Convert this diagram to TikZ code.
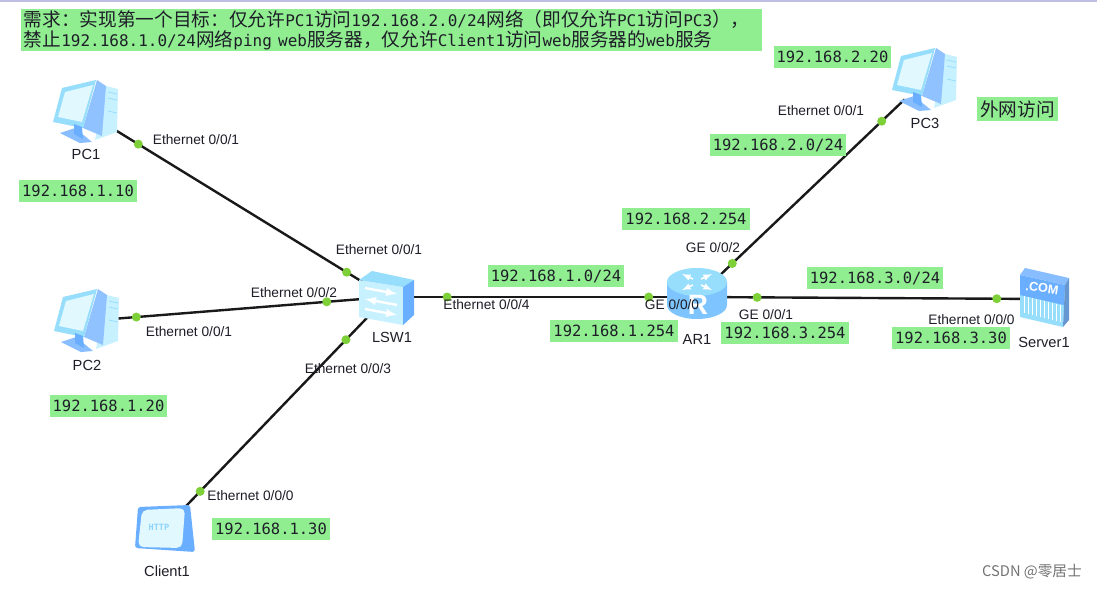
\documentclass[tikz,border=0pt]{standalone}
\usepackage{fontspec}
\setmainfont{Liberation Sans}
\setmonofont{DejaVu Sans Mono}
\newfontfamily\cjk{Noto Sans CJK SC}
\usepackage{xcolor}
\definecolor{ipgreen}{RGB}{144, 238, 144}
\definecolor{portgreen}{RGB}{126, 208, 56}
\definecolor{iconpale}{RGB}{200, 241, 255}
\definecolor{iconscreen}{RGB}{226, 248, 255}
\definecolor{iconsky}{RGB}{150, 222, 252}
\definecolor{iconblue}{RGB}{106, 174, 255}
\definecolor{inktext}{RGB}{30, 30, 40}
\newcommand{\lat}[1]{{\ttfamily\fontsize{12}{15}\selectfont #1}}
\usetikzlibrary{positioning}
\tikzset{
  device/.style={minimum size=30pt, inner sep=0pt},
  devname/.style={inner sep=0pt, text=inktext, font=\fontsize{11}{12}\selectfont},
  portname/.style={inner sep=0pt, text=inktext, font=\fontsize{10.3}{12}\selectfont},
  ipbox/.style={fill=ipgreen, text=inktext, inner xsep=2.25pt, inner ysep=0pt,
    minimum height=16.5pt, font=\ttfamily\fontsize{11.6}{14}\selectfont},
  link/.style={line width=1.8pt, black!90},
  portdot/.style={circle, fill=portgreen, inner sep=0pt, minimum size=6.75pt},
  pics/pcicon/.style={code={
    \fill[iconpale] (20,-26) -- (32,-23) -- (31,20) -- (9,28) -- cycle;
    \fill[iconblue!75] (11,-32) -- (20,-26) -- (16,24) -- (-3,16) -- cycle;
    \fill[iconsky] (-33,10) -- (-24,-24) -- (10,-32) -- (-3,16) -- cycle;
    \fill[iconscreen] (-28,5) -- (-21,-20) -- (7,-27) -- (-4,10) -- cycle;
    \fill[iconblue!80] (-26,21) -- (-11,16) -- (6,30) -- (-6,31) -- cycle;
    \fill[iconblue] (-12,12) -- (-4,15) -- (-3,27) -- (-12,22) -- cycle;
    \draw[iconsky, line width=0.6pt] (22,-20) -- (31,-18) (22,-14) -- (31,-12) (22,-1) -- (31,1);
  }},
  pics/switchicon/.style={code={
    \fill[iconpale] (-28,-17) -- (-28,20) -- (16,28) -- (16,-10) -- cycle;
    \fill[iconsky] (-28,-17) -- (-15,-26) -- (27,-17) -- (16,-10) -- cycle;
    \fill[iconblue] (16,-10) -- (27,-17) -- (27,18) -- (16,28) -- cycle;
    \draw[white, line width=1.8pt, -latex] (-22,-9) -- (10,-3);
    \draw[white, line width=1.8pt, latex-] (-22,2) -- (10,8);
    \draw[white, line width=1.8pt, -latex] (-22,12) -- (10,18);
  }},
  pics/routericon/.style={code={
    \fill[iconsky!45!iconblue] (-30,-15) -- (-30,8) arc[start angle=180, end angle=0, x radius=30, y radius=14] -- (30,-15) -- cycle;
    \fill[iconsky] (0,-15) ellipse[x radius=30, y radius=14];
    \draw[white, line width=1.2pt, -latex] (-4,-18) -- (-15,-23);
    \draw[white, line width=1.2pt, -latex] (4,-18) -- (15,-23);
    \draw[white, line width=1.2pt, -latex] (-4,-12) -- (-15,-7);
    \draw[white, line width=1.2pt, -latex] (4,-12) -- (15,-7);
    \node[white, inner sep=0pt, font=\bfseries\fontsize{21}{21}\selectfont] (rtag) at (1,8) {R};
  }},
  pics/servericon/.style={code={
    \fill[iconsky] (-24,-24) -- (-24,18) -- (19,28) -- (21,-14) -- cycle;
    \fill[iconblue] (-24,-24) -- (-24,-4) -- (20,6) -- (21,-14) -- cycle;
    \fill[iconblue!80] (-24,-24) -- (-19,-31) -- (25,-21) -- (21,-14) -- cycle;
    \fill[iconblue!80!black!90] (21,-14) -- (25,-21) -- (25,21) -- (19,28) -- cycle;
    \node[white, inner sep=0pt, rotate=-8, font=\bfseries\fontsize{9.5}{10}\selectfont] (comtag) at (-2,-11) {.COM};
    \foreach \barx in {-20,-16,...,16}
      \draw[white, line width=0.6pt] (\barx,{2+0.23*\barx}) -- (\barx,{19+0.23*\barx});
  }},
  pics/clienticon/.style={code={
    \fill[iconblue, rounded corners=2pt] (-27,-21) -- (25,-23) -- (30,24) -- (-30,20) -- cycle;
    \fill[iconscreen, rounded corners=4pt] (-23,-18) -- (20,-20) -- (17,20) -- (-27,19) -- cycle;
    \node[iconsky!80!iconblue, inner sep=0pt, font=\ttfamily\bfseries\fontsize{6.5}{8}\selectfont] (httptag) at (-6,-1) {HTTP};
  }}
}

\begin{document}
\begin{tikzpicture}[x=0.75pt, y=-0.75pt]
  \path[use as bounding box, fill=white] (0,0) rectangle (1097,589);
  \fill[black!40!blue!25!white] (0,0) rectangle (1097,2);

  \node[device] (pcone) at (86,112) {};
  \node[device] (pctwo) at (87,321) {};
  \node[device] (pcthree) at (925,80) {};
  \node[device] (lswone) at (387,297) {};
  \node[device] (arone) at (697,297) {};
  \node[device] (serverone) at (1044,299) {};
  \node[device] (clientone) at (165,528) {};

  \draw[link] (pcone) -- node[portdot, pos=0.123] (dotpca) {} node[portdot, pos=0.923] (dotswa) {} (lswone);
  \draw[link] (pctwo) -- node[portdot, pos=0.112] (dotpcb) {} node[portdot, pos=0.846] (dotswb) {} (lswone);
  \draw[link] (clientone) -- node[portdot, pos=0.086] (dotcl) {} node[portdot, pos=0.882] (dotswc) {} (lswone);
  \draw[link] (lswone) -- node[portdot, pos=0.148] (dotswd) {} node[portdot, pos=0.896] (dotara) {} (arone);
  \draw[link] (arone) -- node[portdot, pos=0.13] (dotarb) {} node[portdot, pos=0.912] (dotsrv) {} (serverone);
  \draw[link] (arone) -- node[portdot, pos=0.08] (dotarc) {} node[portdot, pos=0.877] (dotpcc) {} (pcthree);

  \pic at (pcone) {pcicon};
  \pic at (pctwo) {pcicon};
  \pic at (pcthree) {pcicon};
  \pic at (lswone) {switchicon};
  \pic at (arone) {routericon};
  \pic at (serverone) {servericon};
  \pic at (clientone) {clienticon};

  \node[devname, below=12.75pt of pcone] (pconename) {PC1};
  \node[devname, below=14.25pt of pctwo] (pctwoname) {PC2};
  \node[devname, below=13.5pt of pcthree] (pcthreename) {PC3};
  \node[devname, below=11.25pt of lswone, xshift=3.75pt] (lswonename) {LSW1};
  \node[devname, below=12.75pt of arone] (aronename) {AR1};
  \node[devname, below=13.5pt of serverone] (serveronename) {Server1};
  \node[devname, below=12.75pt of clientone, xshift=1.5pt] (clientonename) {Client1};

  \node[portname] (portpca) at (196,140) {Ethernet 0/0/1};
  \node[portname] (portswa) at (379,250) {Ethernet 0/0/1};
  \node[portname] (portswb) at (294,293) {Ethernet 0/0/2};
  \node[portname] (portpcb) at (189,332) {Ethernet 0/0/1};
  \node[portname] (portswc) at (348,369) {Ethernet 0/0/3};
  \node[portname] (portswd) at (486.5,305) {Ethernet 0/0/4};
  \node[portname] (portcl) at (250.5,496) {Ethernet 0/0/0};
  \node[portname] (portpcc) at (821,111) {Ethernet 0/0/1};
  \node[portname] (portarc) at (713,248) {GE 0/0/2};
  \node[portname] (portara) at (672,305) {GE 0/0/0};
  \node[portname] (portarb) at (766,315) {GE 0/0/1};
  \node[portname] (portsrv) at (971.5,320) {Ethernet 0/0/0};

  \node[ipbox] (ippca) at (78,190.5) {192.168.1.10};
  \node[ipbox] (ippcb) at (108.5,406) {192.168.1.20};
  \node[ipbox] (ipcl) at (271,529) {192.168.1.30};
  \node[ipbox] (ippcc) at (832.5,57) {192.168.2.20};
  \node[ipbox] (ipneta) at (778,145) {192.168.2.0/24};
  \node[ipbox] (ipgwc) at (686,219) {192.168.2.254};
  \node[ipbox] (ipnetb) at (556,276) {192.168.1.0/24};
  \node[ipbox] (ipgwa) at (614,331) {192.168.1.254};
  \node[ipbox] (ipnetc) at (875,278) {192.168.3.0/24};
  \node[ipbox] (ipgwb) at (785,333) {192.168.3.254};
  \node[ipbox] (ipsrv) at (951,338) {192.168.3.30};

  \node[fill=ipgreen, text=inktext, inner sep=0pt, minimum width=60.75pt, minimum height=18pt,
        font=\cjk\fontsize{14}{16}\selectfont] (outernote) at (1017.5,109) {外网访问};

  \node[fill=ipgreen, text=inktext, anchor=north west, inner xsep=2pt, inner ysep=0pt,
        minimum width=555.75pt, minimum height=31.5pt, text width=551.75pt, align=left,
        font=\cjk\fontsize{14}{15}\selectfont] (reqnote) at (21,9)
    {需求：实现第一个目标：仅允许\lat{PC1}访问\lat{192.168.2.0/24}网络（即仅允许\lat{PC1}访问\lat{PC3}），\\
     禁止\lat{192.168.1.0/24}网络\lat{ping web}服务器，仅允许\lat{Client1}访问\lat{web}服务器的\lat{web}服务};

  \node[inner sep=0pt, text=black!55, font=\cjk\fontsize{11}{12}\selectfont] (mark) at (1032,572) {CSDN @零居士};
\end{tikzpicture}
\end{document}
